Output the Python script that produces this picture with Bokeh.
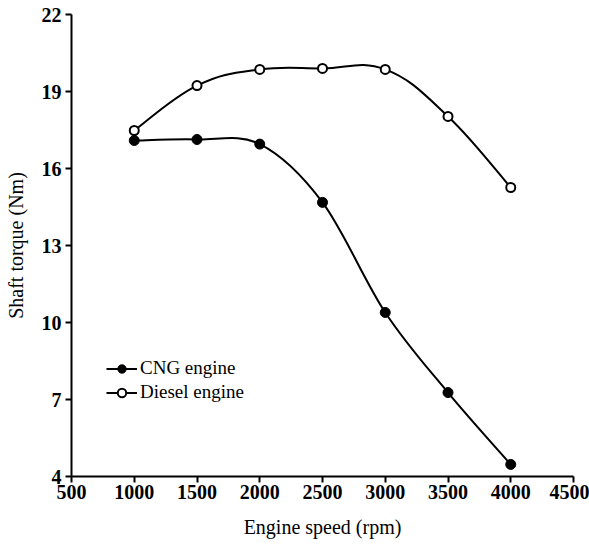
from bokeh.plotting import figure
from bokeh.models import Range1d, FixedTicker, Legend, LegendItem, ColumnDataSource
from bokeh.embed import file_html
from bokeh.resources import INLINE
import numpy as np

speed = [1000, 1500, 2000, 2500, 3000, 3500, 4000]
cng_torque = [17.09, 17.13, 16.95, 14.68, 10.39, 7.27, 4.47]
diesel_torque = [17.48, 19.23, 19.86, 19.90, 19.86, 18.03, 15.26]
x_ticks = [500, 1000, 1500, 2000, 2500, 3000, 3500, 4000, 4500]
y_ticks = [4, 7, 10, 13, 16, 19, 22]

SERIF = "Liberation Serif"

p = figure(width=589, height=544, output_backend="svg", toolbar_location=None,
           x_range=Range1d(500, 4500), y_range=Range1d(4, 22),
           min_border_left=71, min_border_right=16, min_border_top=14, min_border_bottom=68)
p.outline_line_color = None
p.grid.visible = False
p.background_fill_color = "white"


def smooth_segments(xs, ys, t=0.5):
    # Catmull-Rom -> cubic Bezier control points, computed from the data
    xs = np.asarray(xs, float); ys = np.asarray(ys, float)
    n = len(xs)
    x0, y0, x1, y1, cx0, cy0, cx1, cy1 = [], [], [], [], [], [], [], []
    for i in range(n - 1):
        pxm = xs[i - 1] if i > 0 else xs[i]
        pym = ys[i - 1] if i > 0 else ys[i]
        pxp = xs[i + 2] if i + 2 < n else xs[i + 1]
        pyp = ys[i + 2] if i + 2 < n else ys[i + 1]
        x0.append(xs[i]); y0.append(ys[i]); x1.append(xs[i + 1]); y1.append(ys[i + 1])
        cx0.append(xs[i] + (xs[i + 1] - pxm) * t / 3)
        cy0.append(ys[i] + (ys[i + 1] - pym) * t / 3)
        cx1.append(xs[i + 1] - (pxp - xs[i]) * t / 3)
        cy1.append(ys[i + 1] - (pyp - ys[i]) * t / 3)
    return dict(x0=x0, y0=y0, x1=x1, y1=y1, cx0=cx0, cy0=cy0, cx1=cx1, cy1=cy1)


cng_src = ColumnDataSource(smooth_segments(speed, cng_torque, 0.5))
die_src = ColumnDataSource(smooth_segments(speed, diesel_torque, 0.6))
p.bezier(x0="x0", y0="y0", x1="x1", y1="y1", cx0="cx0", cy0="cy0", cx1="cx1", cy1="cy1",
         source=cng_src, line_color="black", line_width=2)
p.bezier(x0="x0", y0="y0", x1="x1", y1="y1", cx0="cx0", cy0="cy0", cx1="cx1", cy1="cy1",
         source=die_src, line_color="black", line_width=2)

r_cng = p.scatter(speed, cng_torque, marker="circle", size=10, fill_color="black",
                  line_color="black", line_width=1)
r_die = p.scatter(speed, diesel_torque, marker="circle", size=9, fill_color="white",
                  line_color="black", line_width=2)

# legend proxies (line + marker)
l_cng = p.line([speed[0]], [cng_torque[0]], line_color="black", line_width=2, visible=False)
l_die = p.line([speed[0]], [diesel_torque[0]], line_color="black", line_width=2, visible=False)
legend = Legend(items=[LegendItem(label="CNG engine", renderers=[l_cng, r_cng]),
                       LegendItem(label="Diesel engine", renderers=[l_die, r_die])],
                location=(35, 73), border_line_color=None, background_fill_alpha=0,
                padding=0, margin=0, spacing=2, glyph_width=31, glyph_height=21,
                label_text_font=SERIF, label_text_font_size="19px",
                label_text_color="black",
                label_standoff=3, label_height=21)
p.add_layout(legend)

for ax in (p.xaxis[0], p.yaxis[0]):
    ax.axis_line_width = 2
    ax.axis_line_color = "black"
    ax.major_tick_line_width = 2
    ax.major_tick_out = 6
    ax.major_tick_in = 0
    ax.major_tick_line_color = "black"
    ax.minor_tick_line_color = None
    ax.major_label_text_font = SERIF
    ax.major_label_text_font_style = "bold"
    ax.major_label_text_font_size = "20px"
    ax.major_label_text_color = "black"
    ax.axis_label_text_font = SERIF
    ax.axis_label_text_font_style = "normal"
    ax.axis_label_text_font_size = "20px"
    ax.axis_label_text_color = "black"

p.xaxis[0].ticker = FixedTicker(ticks=x_ticks)
p.yaxis[0].ticker = FixedTicker(ticks=y_ticks)
p.xaxis[0].axis_label = "Engine speed (rpm)"
p.yaxis[0].axis_label = "Shaft torque (Nm)"
p.xaxis[0].major_label_standoff = 2
p.yaxis[0].major_label_standoff = 4
p.xaxis[0].axis_label_standoff = 14
p.yaxis[0].axis_label_standoff = 12

open("out.html", "w").write(file_html(p, INLINE))
